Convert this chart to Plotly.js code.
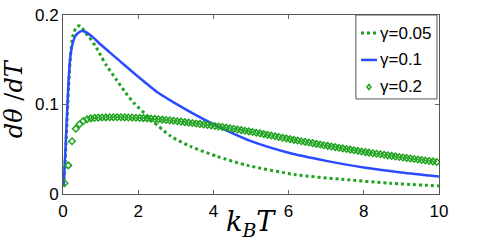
<!DOCTYPE html>
<html>
<head>
<meta charset="utf-8">
<script src="https://cdn.plot.ly/plotly-3.0.1.min.js"></script>
<style>html,body{margin:0;padding:0;background:#fff;}#chart{width:485px;height:241px;}</style>
</head>
<body>
<div id="chart"></div>
<script>
// gamma = 0.05 (dotted)
var xG005 = [0.01, 0.05, 0.1, 0.15, 0.2, 0.27, 0.35, 0.43, 0.5, 0.6, 0.7, 0.85, 1.0, 1.15, 1.4, 1.65, 1.9, 2.2, 2.4, 2.85, 3.4, 4.1, 4.9, 6.2, 7.4, 8.7, 10];
var yG005 = [0.008, 0.03, 0.075, 0.12, 0.155, 0.178, 0.186, 0.188, 0.186, 0.180, 0.175, 0.166, 0.155, 0.144, 0.129, 0.114, 0.101, 0.089, 0.081, 0.065, 0.053, 0.042, 0.032, 0.0215, 0.0164, 0.012, 0.009];
// gamma = 0.1 (solid)
var xG01 = [0.02, 0.06, 0.1, 0.15, 0.2, 0.25, 0.32, 0.4, 0.5, 0.6, 0.8, 1.0, 1.25, 1.5, 2.0, 2.5, 3.0, 3.5, 4.0, 4.5, 5.0, 6.0, 7.0, 8.0, 9.0, 10.0];
var yG01 = [0.01, 0.045, 0.083, 0.128, 0.155, 0.167, 0.176, 0.180, 0.182, 0.181, 0.175, 0.167, 0.158, 0.149, 0.131, 0.114, 0.101, 0.089, 0.078, 0.068, 0.059, 0.046, 0.037, 0.0295, 0.024, 0.0195];
// gamma = 0.2 (open diamonds), sampled every 0.1 starting at 0.04
var xStart02 = 0.04, xStep02 = 0.1;
var yG02 = [0.012, 0.032, 0.059, 0.073, 0.078, 0.0815, 0.0835, 0.0845, 0.085, 0.0853,
  0.0855, 0.0856, 0.0857, 0.0857, 0.0857, 0.0857, 0.0856, 0.0855, 0.0854, 0.0852,
  0.085, 0.0848, 0.0845, 0.0842, 0.0839, 0.0835, 0.0831, 0.0827, 0.0823, 0.0818,
  0.0813, 0.0808, 0.0803, 0.0798, 0.0793, 0.0788, 0.0783, 0.0777, 0.0771, 0.0766,
  0.0760, 0.0754, 0.0748, 0.0741, 0.0734, 0.0728, 0.0721, 0.0714, 0.0707, 0.0700,
  0.0693, 0.0685, 0.0677, 0.0669, 0.0661, 0.0653, 0.0645, 0.0637, 0.0629, 0.0621,
  0.0613, 0.0605, 0.0598, 0.0590, 0.0583, 0.0575, 0.0568, 0.0560, 0.0553, 0.0545,
  0.0538, 0.0531, 0.0524, 0.0517, 0.0510, 0.0503, 0.0496, 0.0489, 0.0482, 0.0475,
  0.0468, 0.0462, 0.0456, 0.0450, 0.0444, 0.0438, 0.0432, 0.0426, 0.0420, 0.0414,
  0.0408, 0.0402, 0.0397, 0.0391, 0.0386, 0.0380, 0.0375, 0.0369, 0.0364, 0.0358];
var xG02 = yG02.map(function(_, i){ return +(xStart02 + xStep02 * i).toFixed(2); });

var names = ['γ=0.05', 'γ=0.1', 'γ=0.2'];
var xTicks = [0, 2, 4, 6, 8, 10];
var yTicks = [0, 0.1, 0.2];
var yTickText = ['0', '0.1', '0.2'];

var green = '#1fa31f', blue = '#2b4bff';

var traces = [
  {x: xG005, y: yG005, name: names[0], mode: 'lines', showlegend: false,
   line: {color: green, width: 3, dash: 'dot', shape: 'spline', smoothing: 0.7}},
  {x: xG01, y: yG01, name: names[1], mode: 'lines', showlegend: false,
   line: {color: blue, width: 2.5, shape: 'spline', smoothing: 0.7}},
  {x: xG02, y: yG02, name: names[2], mode: 'markers', showlegend: false,
   marker: {symbol: 'diamond-open', size: 5, color: green, line: {width: 1.5, color: green}}}
];

var axisCommon = {
  showgrid: false, zeroline: false, showline: true, linecolor: '#555', linewidth: 1,
  mirror: 'ticks', ticks: 'inside', ticklen: 4, tickcolor: '#666', tickwidth: 1,
  tickfont: {family: 'Liberation Sans, Arial, sans-serif', size: 17, color: '#000'}
};

// hand-built legend box (paper coordinates of the plot area)
var legX0 = 0.779, legX1 = 0.9947, legY0 = 0.531, legY1 = 1.0;
var rowY = [0.899, 0.749, 0.598];
var sampX0 = 0.7926, sampX1 = 0.835, textX = 0.8375;
var legFont = {family: 'Liberation Sans, Arial, sans-serif', size: 17, color: '#000'};

var shapes = [
  {type: 'rect', xref: 'paper', yref: 'paper', x0: legX0, x1: legX1, y0: legY0, y1: legY1,
   line: {color: '#555', width: 1}, fillcolor: '#fff', layer: 'above'},
  {type: 'line', xref: 'paper', yref: 'paper', x0: sampX0, x1: sampX1, y0: rowY[0], y1: rowY[0],
   line: {color: green, width: 3, dash: 'dot'}, layer: 'above'},
  {type: 'line', xref: 'paper', yref: 'paper', x0: sampX0, x1: sampX1, y0: rowY[1], y1: rowY[1],
   line: {color: blue, width: 2.5}, layer: 'above'},
  {type: 'path', xref: 'paper', yref: 'paper', xsizemode: 'pixel', ysizemode: 'pixel',
   xanchor: (sampX0 + sampX1) / 2, yanchor: rowY[2],
   path: 'M0,-2.5 L2,0 L0,2.5 L-2,0 Z', line: {color: green, width: 1.5}, layer: 'above'}
];

var annotations = [
  {xref: 'paper', yref: 'paper', x: 0.5, y: 0, yshift: -49, xanchor: 'center', yanchor: 'bottom',
   text: '<i>k</i><sub><i>B</i></sub><i>T</i>', showarrow: false,
   font: {family: 'DejaVu Serif, Liberation Serif, serif', size: 27, color: '#000'}},
  {xref: 'paper', yref: 'paper', x: 0, xshift: -49, y: 0.53, xanchor: 'center', yanchor: 'middle',
   text: '<i>dθ</i> /<i>dT</i>', showarrow: false, textangle: -90,
   font: {family: 'DejaVu Serif, Liberation Serif, serif', size: 24, color: '#000'}}
];
names.forEach(function(n, i){
  annotations.push({xref: 'paper', yref: 'paper', x: textX, y: rowY[i], xanchor: 'left', yanchor: 'middle',
    text: n, showarrow: false, font: legFont});
});

var layout = {
  width: 485, height: 241,
  margin: {l: 63, r: 46, t: 15, b: 47},
  paper_bgcolor: '#fff', plot_bgcolor: '#fff',
  showlegend: false,
  xaxis: Object.assign({}, axisCommon, {range: [0, 10], tickvals: xTicks, ticktext: xTicks.map(String), ticklabelstandoff: 2}),
  yaxis: Object.assign({}, axisCommon, {range: [0, 0.2], tickvals: yTicks, ticktext: yTickText, ticklabelstandoff: 0}),
  shapes: shapes,
  annotations: annotations
};

Plotly.newPlot('chart', traces, layout, {staticPlot: true, displayModeBar: false});
</script>
</body>
</html>
